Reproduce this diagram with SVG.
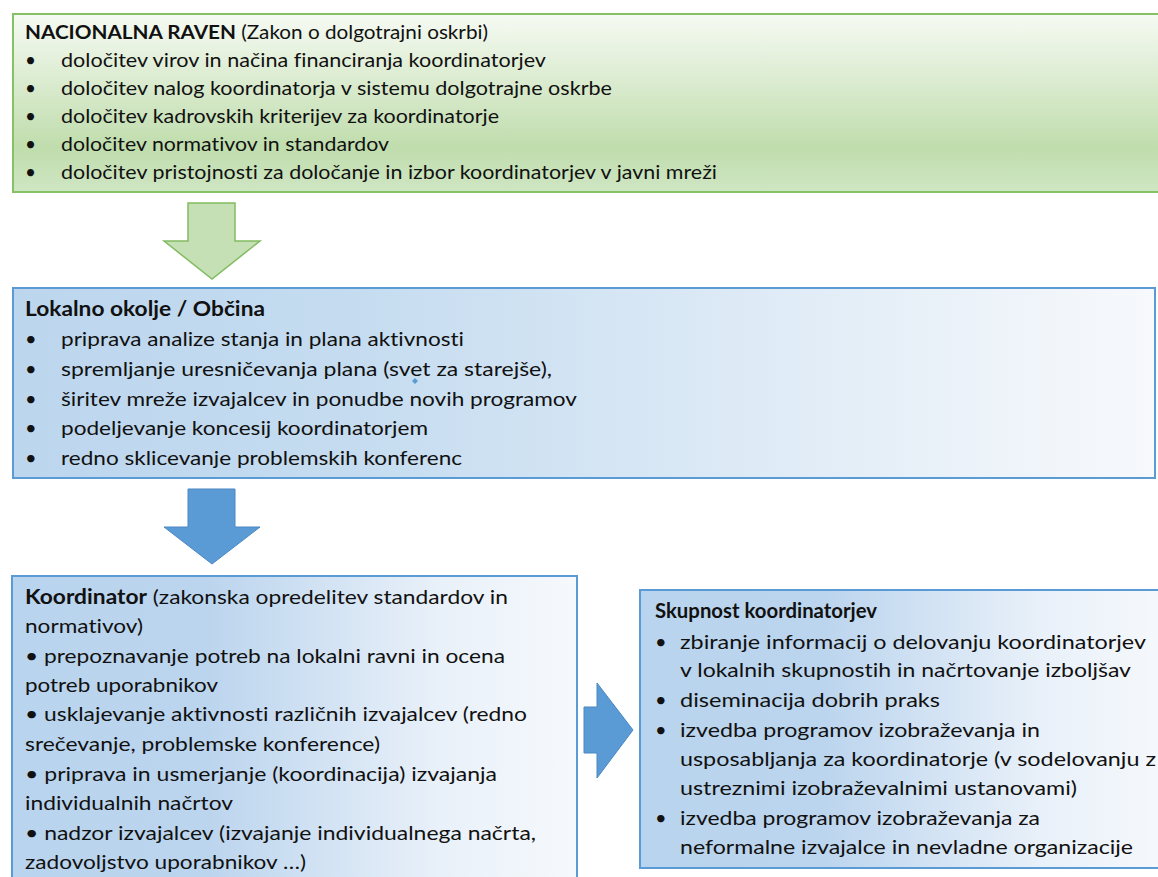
<svg xmlns="http://www.w3.org/2000/svg" width="1158" height="877" viewBox="0 0 1158 877">
<defs>
<linearGradient id="gGreen" x1="0" y1="0" x2="0" y2="1">
<stop offset="0" stop-color="#f6faf3"/>
<stop offset="0.75" stop-color="#c0ddad"/>
<stop offset="1" stop-color="#cfe6c3"/>
</linearGradient>
<linearGradient id="gBlue2" x1="0" y1="0" x2="1" y2="0">
<stop offset="0" stop-color="#bcd6ee"/>
<stop offset="0.3" stop-color="#c5dcf0"/>
<stop offset="1" stop-color="#f7f9fc"/>
</linearGradient>
<linearGradient id="gBlue3" x1="0" y1="0" x2="1" y2="0">
<stop offset="0" stop-color="#b9d4ee"/>
<stop offset="0.35" stop-color="#bcd5ee"/>
<stop offset="0.75" stop-color="#e8f0f9"/>
<stop offset="1" stop-color="#f6f9fc"/>
</linearGradient>
<style>
.t{font-family:Lato,"Liberation Sans",sans-serif;fill:#111111;font-variant-ligatures:none}
.f19{font-size:19px}
.f20{font-size:20px}
.b{font-weight:bold}
.gbox{fill:url(#gGreen);stroke:#86c067;stroke-width:2}
.bbox2{fill:url(#gBlue2);stroke:#5b9bd5;stroke-width:2}
.bbox3{fill:url(#gBlue3);stroke:#5b9bd5;stroke-width:2}
.garrow{fill:#c5e0b4;stroke:#82bb62;stroke-width:1.5}
.barrow{fill:#5b9bd5;stroke:#4a87c2;stroke-width:1}
</style>
</defs>
<rect width="1158" height="877" fill="#ffffff"/>

<g id="national">
<rect class="gbox" x="13" y="14" width="1150" height="178"/>
<text class="t f19" x="25" y="39" textLength="463" lengthAdjust="spacingAndGlyphs"><tspan class="b">NACIONALNA RAVEN</tspan> (Zakon o dolgotrajni oskrbi)</text>
<g class="t f19">
<text x="25" y="67">•</text><text x="61" y="67" textLength="485" lengthAdjust="spacingAndGlyphs">določitev  virov in načina financiranja koordinatorjev</text>
<text x="25" y="95">•</text><text x="61" y="95" textLength="551" lengthAdjust="spacingAndGlyphs">določitev  nalog koordinatorja v sistemu dolgotrajne oskrbe</text>
<text x="25" y="123">•</text><text x="61" y="123" textLength="438" lengthAdjust="spacingAndGlyphs">določitev kadrovskih kriterijev  za koordinatorje</text>
<text x="25" y="151">•</text><text x="61" y="151" textLength="328" lengthAdjust="spacingAndGlyphs">določitev normativov in standardov</text>
<text x="25" y="179">•</text><text x="61" y="179" textLength="656" lengthAdjust="spacingAndGlyphs">določitev pristojnosti za določanje in izbor koordinatorjev v javni mreži</text>
</g>
</g>

<g id="local">
<rect class="bbox2" x="13" y="288" width="1142" height="190"/>
<text class="t f20 b" x="25" y="316" textLength="240" lengthAdjust="spacingAndGlyphs">Lokalno okolje / Občina</text>
<g class="t f20">
<text x="25" y="346">•</text><text x="61" y="346" textLength="403" lengthAdjust="spacingAndGlyphs">priprava analize stanja in plana aktivnosti</text>
<text x="25" y="376">•</text><text x="61" y="376" textLength="491" lengthAdjust="spacingAndGlyphs">spremljanje uresničevanja plana (svet za starejše),</text>
<text x="25" y="406">•</text><text x="61" y="406" textLength="516" lengthAdjust="spacingAndGlyphs">širitev mreže izvajalcev in ponudbe novih programov</text>
<text x="25" y="435">•</text><text x="61" y="435" textLength="367" lengthAdjust="spacingAndGlyphs">podeljevanje koncesij koordinatorjem</text>
<text x="25" y="465">•</text><text x="61" y="465" textLength="401" lengthAdjust="spacingAndGlyphs">redno sklicevanje problemskih konferenc</text>
</g>
<path d="M415 378 L418 381 L415 384 L412 381 Z" fill="#5b9bd5"/>
</g>

<g id="coordinator">
<rect class="bbox3" x="12" y="576" width="565" height="320"/>
<g class="t f20">
<text x="25" y="604" textLength="483" lengthAdjust="spacingAndGlyphs"><tspan class="b">Koordinator</tspan> (zakonska opredelitev standardov in</text>
<text x="25" y="633" textLength="118" lengthAdjust="spacingAndGlyphs">normativov)</text>
<text x="25" y="663" textLength="480" lengthAdjust="spacingAndGlyphs">• prepoznavanje potreb na lokalni ravni in ocena</text>
<text x="25" y="692" textLength="193" lengthAdjust="spacingAndGlyphs">potreb uporabnikov</text>
<text x="25" y="721" textLength="502" lengthAdjust="spacingAndGlyphs">• usklajevanje aktivnosti različnih izvajalcev (redno</text>
<text x="25" y="751" textLength="355" lengthAdjust="spacingAndGlyphs">srečevanje, problemske konference)</text>
<text x="25" y="781" textLength="472" lengthAdjust="spacingAndGlyphs">• priprava in usmerjanje (koordinacija) izvajanja</text>
<text x="25" y="810" textLength="208" lengthAdjust="spacingAndGlyphs">individualnih načrtov</text>
<text x="25" y="840" textLength="511" lengthAdjust="spacingAndGlyphs">• nadzor izvajalcev (izvajanje individualnega načrta,</text>
<text x="25" y="869" textLength="281" lengthAdjust="spacingAndGlyphs">zadovoljstvo uporabnikov …)</text>
</g>
</g>

<g id="community">
<rect class="bbox3" x="640" y="590" width="530" height="278"/>
<text class="t f20 b" x="655" y="618" textLength="222" lengthAdjust="spacingAndGlyphs">Skupnost koordinatorjev</text>
<g class="t f20">
<text x="655" y="649">•</text><text x="680" y="649" textLength="466" lengthAdjust="spacingAndGlyphs">zbiranje informacij o delovanju koordinatorjev</text>
<text x="680" y="677" textLength="451" lengthAdjust="spacingAndGlyphs">v lokalnih skupnostih in načrtovanje izboljšav</text>
<text x="655" y="707">•</text><text x="680" y="707" textLength="260" lengthAdjust="spacingAndGlyphs">diseminacija dobrih praks</text>
<text x="655" y="737">•</text><text x="680" y="737" textLength="360" lengthAdjust="spacingAndGlyphs">izvedba programov izobraževanja in</text>
<text x="680" y="766" textLength="476" lengthAdjust="spacingAndGlyphs">usposabljanja za koordinatorje (v sodelovanju z</text>
<text x="680" y="795" textLength="397" lengthAdjust="spacingAndGlyphs">ustreznimi izobraževalnimi ustanovami)</text>
<text x="655" y="825">•</text><text x="680" y="825" textLength="360" lengthAdjust="spacingAndGlyphs">izvedba programov izobraževanja za</text>
<text x="680" y="854" textLength="453" lengthAdjust="spacingAndGlyphs">neformalne izvajalce in nevladne organizacije</text>
</g>
</g>

<g id="connectors">
<path class="garrow" d="M188 203 H235 V241 H260 L212 279 L164 241 H188 Z"/>
<path class="barrow" d="M188 489 H235 V527 H260 L212 564 L164 527 H188 Z"/>
<path class="barrow" d="M584 707 H597 V683 L633 730 L597 778 V753 H584 Z"/>
</g>
</svg>
